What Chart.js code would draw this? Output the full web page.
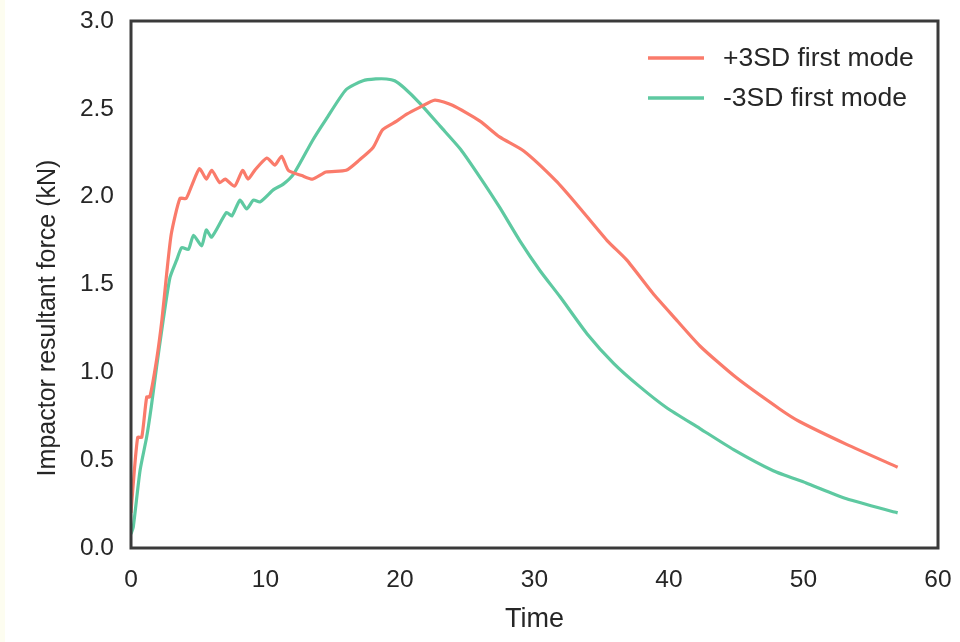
<!DOCTYPE html>
<html>
<head>
<meta charset="utf-8">
<script src="https://cdn.jsdelivr.net/npm/chart.js@4/dist/chart.umd.min.js"></script>
<style>
  html, body { margin: 0; padding: 0; background: #ffffff; }
  #wrap { position: relative; width: 960px; height: 642px; }
  #strip { position: absolute; left: 0; top: 0; width: 5px; height: 642px; background: #fdfdf0; }
  canvas { position: absolute; left: 0; top: 0; }
</style>
</head>
<body>
<div id="wrap">
  <canvas id="c" width="960" height="642"></canvas>
  <div id="strip"></div>
</div>
<script>
// ---- data ----
const plusTime = [0, 0.15, 0.5, 0.8, 1.17, 1.4, 1.9, 2.3, 2.65, 3.0, 3.64, 4.1, 4.5, 5.1, 5.6, 6.0, 6.6, 7.0, 7.7, 8.3, 8.7, 9.2, 10.1, 10.7, 11.2, 11.7, 12.7, 13.5, 14.5, 16.0, 17.0, 18.0, 18.7, 19.75, 20.5, 21.5, 22.6, 23.9, 25.95, 27.4, 29.2, 31.6, 33.1, 35.4, 36.85, 38.8, 40.3, 42.3, 45.0, 48.25, 49.7, 53.2, 57.0];
const plusForce = [0.2, 0.35, 0.63, 0.63, 0.86, 0.86, 1.07, 1.30, 1.56, 1.79, 1.99, 1.99, 2.06, 2.16, 2.10, 2.15, 2.08, 2.10, 2.06, 2.15, 2.10, 2.15, 2.22, 2.18, 2.23, 2.15, 2.12, 2.10, 2.14, 2.15, 2.21, 2.28, 2.38, 2.43, 2.47, 2.51, 2.55, 2.52, 2.43, 2.34, 2.26, 2.09, 1.96, 1.75, 1.64, 1.45, 1.32, 1.15, 0.97, 0.79, 0.72, 0.59, 0.46];

const minusTime = [0, 0.17, 0.67, 1.16, 1.5, 1.9, 2.4, 2.9, 3.4, 3.77, 4.27, 4.65, 5.25, 5.6, 6.0, 7.1, 7.5, 8.1, 8.6, 9.1, 9.6, 10.6, 11.3, 12.1, 13.5, 14.5, 16.0, 17.25, 18.2, 19.0, 19.6, 20.3, 21.5, 23.0, 24.5, 25.95, 27.4, 28.9, 30.4, 31.9, 33.9, 35.9, 37.8, 39.8, 42.3, 44.8, 47.75, 50.2, 53.2, 57.0];
const minusForce = [0.08, 0.12, 0.44, 0.63, 0.80, 1.03, 1.30, 1.54, 1.64, 1.71, 1.70, 1.78, 1.72, 1.81, 1.77, 1.91, 1.89, 1.98, 1.93, 1.98, 1.97, 2.04, 2.07, 2.13, 2.32, 2.44, 2.61, 2.66, 2.67, 2.67, 2.66, 2.62, 2.53, 2.40, 2.27, 2.11, 1.94, 1.75, 1.58, 1.43, 1.22, 1.05, 0.92, 0.80, 0.68, 0.56, 0.44, 0.37, 0.28, 0.20];

const seriesLabels = ['+3SD first mode', '-3SD first mode'];
const xTicks = [0, 10, 20, 30, 40, 50, 60];
const yTicks = [0.0, 0.5, 1.0, 1.5, 2.0, 2.5, 3.0];
const xTitle = 'Time';
const yTitle = 'Impactor resultant force (kN)';

const RED = '#fa7b6b';
const GREEN = '#5ec9a1';
const TEXT = '#262626';
const FONT = '"Liberation Sans", Arial, sans-serif';

function pts(xs, ys) { return xs.map((x, i) => ({ x: x, y: ys[i] })); }

const framePlugin = {
  id: 'frame',
  afterDatasetsDraw(chart) {
    const { ctx, chartArea: a } = chart;
    ctx.save();
    ctx.strokeStyle = '#3a3a3a';
    ctx.lineWidth = 3;
    ctx.strokeRect(a.left, a.top, a.right - a.left, a.bottom - a.top);
    ctx.restore();
  }
};

const textPlugin = {
  id: 'texts',
  afterDraw(chart) {
    const { ctx } = chart;
    ctx.save();
    // inner legend
    ctx.font = '26.5px ' + FONT;
    ctx.textBaseline = 'middle';
    ctx.textAlign = 'left';
    chart.data.datasets.forEach((ds, i) => {
      const y = 58 + i * 40;
      ctx.strokeStyle = ds.borderColor;
      ctx.lineWidth = 3.5;
      ctx.beginPath();
      ctx.moveTo(648, y);
      ctx.lineTo(704, y);
      ctx.stroke();
      ctx.fillStyle = TEXT;
      ctx.fillText(ds.label, 723, y + 1);
    });
    // y axis title
    ctx.font = '25px ' + FONT;
    ctx.textAlign = 'center';
    ctx.translate(48, 318);
    ctx.rotate(-Math.PI / 2);
    ctx.fillText(yTitle, 0, 0);
    ctx.restore();
  }
};

new Chart(document.getElementById('c'), {
  type: 'line',
  data: {
    datasets: [
      { label: seriesLabels[0], data: pts(plusTime, plusForce), borderColor: RED, backgroundColor: RED, borderWidth: 3.2, pointRadius: 0, tension: 0.2, fill: false },
      { label: seriesLabels[1], data: pts(minusTime, minusForce), borderColor: GREEN, backgroundColor: GREEN, borderWidth: 3.2, pointRadius: 0, tension: 0.2, fill: false }
    ]
  },
  options: {
    responsive: false,
    animation: false,
    layout: { padding: { left: 0, right: 22, top: 21, bottom: 0 } },
    plugins: { legend: { display: false }, tooltip: { enabled: false } },
    scales: {
      x: {
        type: 'linear', min: 0, max: 60,
        afterBuildTicks(s) { s.ticks = xTicks.map(v => ({ value: v })); },
        afterFit(s) { s.height = 94; s.paddingLeft = 0; s.paddingRight = 0; },
        grid: { display: false, drawTicks: false },
        border: { display: false },
        ticks: { color: TEXT, font: { family: FONT, size: 24.5 }, padding: 18, maxRotation: 0 },
        title: { display: true, text: xTitle, color: TEXT, font: { family: FONT, size: 27 }, padding: { top: 4, bottom: 6 } }
      },
      y: {
        type: 'linear', min: 0, max: 3.0,
        afterBuildTicks(s) { s.ticks = yTicks.map(v => ({ value: v })); },
        afterFit(s) { s.width = 131; s.paddingTop = 0; s.paddingBottom = 0; },
        grid: { display: false, drawTicks: false },
        border: { display: false },
        ticks: { color: TEXT, font: { family: FONT, size: 24.5 }, padding: 17, callback: v => Number(v).toFixed(1) },
        title: { display: false }
      }
    }
  },
  plugins: [framePlugin, textPlugin]
});
</script>
</body>
</html>
